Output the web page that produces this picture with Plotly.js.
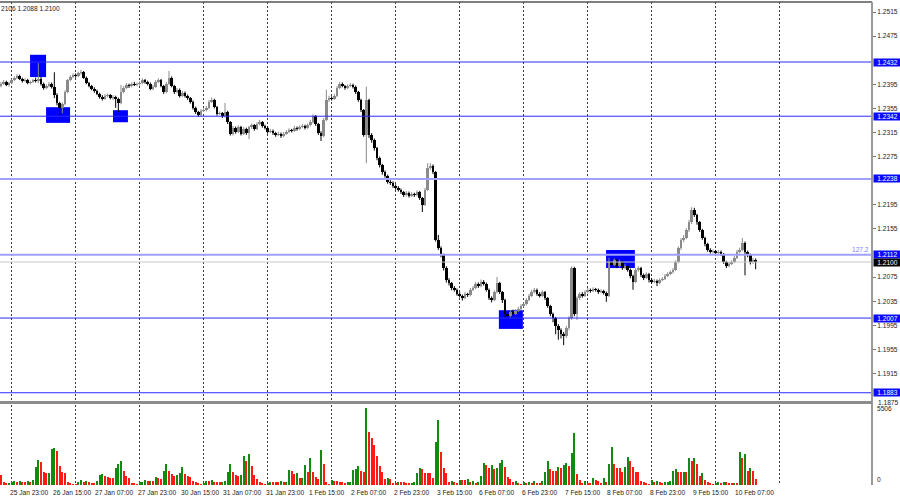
<!DOCTYPE html>
<html>
<head>
<meta charset="utf-8">
<script src="https://cdn.plot.ly/plotly-3.0.1.min.js"></script>
<style>html,body{margin:0;padding:0;background:#fff;}#chart{width:900px;height:500px;}</style>
</head>
<body>
<div id="chart"></div>
<script>
// ---- EURUSD H1 bars (bar index 0..283) ----
const opens = [
1.2393,1.2396,1.2399,1.2394,1.2397,1.2402,1.2406,1.2409,1.2404,1.2401,
1.2402,1.2397,1.2399,1.2402,1.2401,1.2404,1.2396,1.2389,1.2392,1.2396,
1.2391,1.2377,1.2364,1.2356,1.2362,1.2382,1.2402,1.2407,1.2410,1.2409,
1.2414,1.2415,1.2406,1.2397,1.2392,1.2387,1.2384,1.2379,1.2374,1.2371,
1.2376,1.2377,1.2372,1.2374,1.2371,1.2364,1.2382,1.2389,1.2394,1.2392,
1.2396,1.2394,1.2396,1.2397,1.2402,1.2399,1.2396,1.2387,1.2391,1.2399,
1.2402,1.2392,1.2382,1.2396,1.2406,1.2392,1.2382,1.2386,1.2376,1.2381,
1.2376,1.2372,1.2366,1.2356,1.2349,1.2344,1.2351,1.2352,1.2356,1.2366,
1.2369,1.2357,1.2346,1.2347,1.2342,1.2349,1.2332,1.2313,1.2323,1.2316,
1.2324,1.2313,1.2321,1.2314,1.2324,1.2327,1.2321,1.2329,1.2332,1.2326,
1.2323,1.2316,1.2318,1.2314,1.2311,1.2313,1.2309,1.2313,1.2316,1.2319,
1.2318,1.2323,1.2321,1.2324,1.2326,1.2323,1.2327,1.2332,1.2342,1.2329,
1.2314,1.2309,1.2336,1.2369,1.2372,1.2371,1.2376,1.2389,1.2396,1.2392,
1.2389,1.2392,1.2394,1.2391,1.2382,1.2369,1.2352,1.2311,1.2369,1.2311,
1.2303,1.2289,1.2273,1.2261,1.2249,1.2243,1.2233,1.2231,1.2226,1.2223,
1.2220,1.2216,1.2211,1.2215,1.2210,1.2213,1.2211,1.2216,1.2206,1.2195,
1.2220,1.2256,1.2259,1.2249,1.2137,1.2123,1.2112,1.2090,1.2070,1.2065,
1.2057,1.2054,1.2047,1.2044,1.2040,1.2047,1.2045,1.2054,1.2057,1.2064,
1.2060,1.2067,1.2064,1.2054,1.2040,1.2037,1.2050,1.2065,1.2050,1.2037,
1.2014,1.2010,1.2017,1.2014,1.2019,1.2022,1.2027,1.2030,1.2037,1.2044,
1.2050,1.2054,1.2047,1.2044,1.2050,1.2040,1.2027,1.2014,1.2007,1.1994,
1.1987,1.1981,1.1977,1.1991,1.2007,1.2090,1.2014,1.2040,1.2047,1.2044,
1.2050,1.2054,1.2052,1.2055,1.2054,1.2050,1.2052,1.2049,1.2044,1.2100,
1.2095,1.2103,1.2093,1.2100,1.2090,1.2093,1.2087,1.2077,1.2067,1.2087,
1.2090,1.2079,1.2074,1.2080,1.2070,1.2067,1.2069,1.2065,1.2070,1.2072,
1.2077,1.2080,1.2083,1.2087,1.2100,1.2123,1.2137,1.2140,1.2153,1.2166,
1.2186,1.2178,1.2166,1.2153,1.2140,1.2130,1.2120,1.2117,1.2118,1.2115,
1.2117,1.2113,1.2100,1.2093,1.2097,1.2100,1.2107,1.2117,1.2120,1.2132,
1.2117,1.2112,1.2100,1.2104
];
const highs = [
1.2399,1.2402,1.2401,1.2399,1.2404,1.2408,1.2412,1.2411,1.2406,1.2405,
1.2404,1.2401,1.2404,1.2406,1.2430,1.2407,1.2398,1.2395,1.2399,1.2398,
1.2415,1.2380,1.2366,1.2365,1.2385,1.2404,1.2410,1.2413,1.2413,1.2416,
1.2419,1.2417,1.2408,1.2399,1.2394,1.2390,1.2386,1.2381,1.2377,1.2379,
1.2380,1.2379,1.2377,1.2376,1.2373,1.2394,1.2392,1.2397,1.2396,1.2398,
1.2399,1.2398,1.2400,1.2405,1.2404,1.2401,1.2398,1.2394,1.2402,1.2405,
1.2404,1.2394,1.2399,1.2417,1.2408,1.2394,1.2389,1.2388,1.2384,1.2383,
1.2378,1.2374,1.2368,1.2358,1.2351,1.2354,1.2355,1.2359,1.2369,1.2373,
1.2371,1.2359,1.2350,1.2349,1.2364,1.2351,1.2334,1.2326,1.2325,1.2327,
1.2326,1.2324,1.2323,1.2326,1.2330,1.2329,1.2332,1.2336,1.2334,1.2328,
1.2325,1.2321,1.2320,1.2316,1.2316,1.2315,1.2316,1.2319,1.2322,1.2321,
1.2326,1.2325,1.2327,1.2329,1.2328,1.2330,1.2336,1.2345,1.2344,1.2331,
1.2317,1.2339,1.2386,1.2376,1.2375,1.2379,1.2392,1.2399,1.2398,1.2394,
1.2395,1.2397,1.2396,1.2393,1.2384,1.2371,1.2354,1.2391,1.2371,1.2314,
1.2305,1.2291,1.2275,1.2263,1.2252,1.2245,1.2236,1.2234,1.2229,1.2226,
1.2222,1.2218,1.2218,1.2217,1.2216,1.2215,1.2219,1.2218,1.2208,1.2223,
1.2264,1.2264,1.2262,1.2251,1.2145,1.2126,1.2114,1.2093,1.2073,1.2067,
1.2060,1.2056,1.2050,1.2046,1.2050,1.2049,1.2057,1.2060,1.2067,1.2066,
1.2071,1.2070,1.2066,1.2056,1.2043,1.2053,1.2075,1.2067,1.2052,1.2039,
1.2017,1.2020,1.2021,1.2022,1.2026,1.2030,1.2033,1.2040,1.2047,1.2054,
1.2057,1.2056,1.2050,1.2053,1.2052,1.2042,1.2029,1.2016,1.2009,1.1997,
1.1990,1.1984,1.1994,1.2010,1.2093,1.2092,1.2043,1.2050,1.2050,1.2053,
1.2057,1.2056,1.2058,1.2057,1.2056,1.2055,1.2054,1.2051,1.2107,1.2104,
1.2106,1.2105,1.2104,1.2102,1.2097,1.2095,1.2089,1.2079,1.2090,1.2093,
1.2092,1.2081,1.2083,1.2082,1.2073,1.2072,1.2071,1.2073,1.2075,1.2080,
1.2083,1.2086,1.2090,1.2103,1.2126,1.2140,1.2145,1.2156,1.2170,1.2191,
1.2190,1.2180,1.2168,1.2155,1.2142,1.2132,1.2123,1.2121,1.2120,1.2120,
1.2119,1.2115,1.2102,1.2100,1.2103,1.2110,1.2120,1.2124,1.2140,1.2134,
1.2119,1.2114,1.2107,1.2106
];
const lows = [
1.2390,1.2394,1.2392,1.2391,1.2395,1.2400,1.2404,1.2402,1.2398,1.2399,
1.2395,1.2395,1.2397,1.2398,1.2397,1.2393,1.2386,1.2387,1.2390,1.2388,
1.2372,1.2360,1.2344,1.2347,1.2360,1.2380,1.2400,1.2405,1.2406,1.2407,
1.2411,1.2404,1.2395,1.2390,1.2385,1.2381,1.2377,1.2371,1.2368,1.2369,
1.2373,1.2370,1.2369,1.2356,1.2349,1.2362,1.2380,1.2387,1.2389,1.2390,
1.2392,1.2392,1.2393,1.2395,1.2396,1.2393,1.2385,1.2385,1.2389,1.2397,
1.2390,1.2379,1.2380,1.2394,1.2390,1.2379,1.2380,1.2373,1.2374,1.2373,
1.2369,1.2363,1.2353,1.2346,1.2341,1.2342,1.2349,1.2350,1.2354,1.2364,
1.2355,1.2343,1.2344,1.2339,1.2340,1.2329,1.2310,1.2310,1.2313,1.2314,
1.2310,1.2311,1.2311,1.2304,1.2321,1.2318,1.2319,1.2327,1.2323,1.2320,
1.2313,1.2314,1.2311,1.2308,1.2309,1.2306,1.2307,1.2311,1.2314,1.2315,
1.2316,1.2318,1.2319,1.2322,1.2320,1.2321,1.2325,1.2330,1.2326,1.2311,
1.2301,1.2307,1.2334,1.2366,1.2368,1.2369,1.2374,1.2387,1.2390,1.2386,
1.2387,1.2390,1.2388,1.2379,1.2366,1.2349,1.2308,1.2264,1.2306,1.2298,
1.2285,1.2269,1.2257,1.2245,1.2240,1.2230,1.2228,1.2223,1.2220,1.2217,
1.2213,1.2208,1.2209,1.2207,1.2208,1.2208,1.2209,1.2203,1.2183,1.2193,
1.2218,1.2253,1.2246,1.2134,1.2120,1.2108,1.2086,1.2066,1.2061,1.2053,
1.2051,1.2044,1.2041,1.2036,1.2038,1.2042,1.2043,1.2052,1.2055,1.2057,
1.2058,1.2061,1.2051,1.2037,1.2033,1.2035,1.2048,1.2047,1.2032,1.2007,
1.2006,1.2008,1.2011,1.2012,1.2017,1.2020,1.2025,1.2028,1.2035,1.2042,
1.2048,1.2044,1.2041,1.2042,1.2037,1.2024,1.2010,1.2000,1.1980,1.1971,
1.1973,1.1962,1.1974,1.1987,1.2004,1.2010,1.2004,1.2037,1.2041,1.2042,
1.2048,1.2049,1.2050,1.2051,1.2047,1.2048,1.2046,1.2034,1.2042,1.2092,
1.2093,1.2090,1.2091,1.2087,1.2088,1.2084,1.2073,1.2054,1.2065,1.2084,
1.2075,1.2070,1.2072,1.2066,1.2064,1.2065,1.2060,1.2063,1.2068,1.2070,
1.2075,1.2078,1.2081,1.2085,1.2098,1.2120,1.2133,1.2138,1.2150,1.2163,
1.2175,1.2162,1.2150,1.2137,1.2126,1.2117,1.2114,1.2114,1.2112,1.2112,
1.2110,1.2097,1.2090,1.2091,1.2095,1.2098,1.2105,1.2114,1.2118,1.2078,
1.2108,1.2096,1.2097,1.2088
];
const closes = [
1.2396,1.2399,1.2394,1.2397,1.2402,1.2406,1.2409,1.2404,1.2401,1.2402,
1.2397,1.2399,1.2402,1.2401,1.2404,1.2396,1.2389,1.2392,1.2396,1.2391,
1.2377,1.2364,1.2356,1.2362,1.2382,1.2402,1.2407,1.2410,1.2409,1.2414,
1.2415,1.2406,1.2397,1.2392,1.2387,1.2384,1.2379,1.2374,1.2371,1.2376,
1.2377,1.2372,1.2374,1.2371,1.2364,1.2382,1.2389,1.2394,1.2392,1.2396,
1.2394,1.2396,1.2397,1.2402,1.2399,1.2396,1.2387,1.2391,1.2399,1.2402,
1.2392,1.2382,1.2396,1.2406,1.2392,1.2382,1.2386,1.2376,1.2381,1.2376,
1.2372,1.2366,1.2356,1.2349,1.2344,1.2351,1.2352,1.2356,1.2366,1.2369,
1.2357,1.2346,1.2347,1.2342,1.2349,1.2332,1.2313,1.2323,1.2316,1.2324,
1.2313,1.2321,1.2314,1.2324,1.2327,1.2321,1.2329,1.2332,1.2326,1.2323,
1.2316,1.2318,1.2314,1.2311,1.2313,1.2309,1.2313,1.2316,1.2319,1.2318,
1.2323,1.2321,1.2324,1.2326,1.2323,1.2327,1.2332,1.2342,1.2329,1.2314,
1.2309,1.2336,1.2369,1.2372,1.2371,1.2376,1.2389,1.2396,1.2392,1.2389,
1.2392,1.2394,1.2391,1.2382,1.2369,1.2352,1.2311,1.2369,1.2311,1.2303,
1.2289,1.2273,1.2261,1.2249,1.2243,1.2233,1.2231,1.2226,1.2223,1.2220,
1.2216,1.2211,1.2215,1.2210,1.2213,1.2211,1.2216,1.2206,1.2195,1.2220,
1.2256,1.2259,1.2249,1.2137,1.2123,1.2112,1.2090,1.2070,1.2065,1.2057,
1.2054,1.2047,1.2044,1.2040,1.2047,1.2045,1.2054,1.2057,1.2064,1.2060,
1.2067,1.2064,1.2054,1.2040,1.2037,1.2050,1.2065,1.2050,1.2037,1.2014,
1.2010,1.2017,1.2014,1.2019,1.2022,1.2027,1.2030,1.2037,1.2044,1.2050,
1.2054,1.2047,1.2044,1.2050,1.2040,1.2027,1.2014,1.2007,1.1994,1.1987,
1.1981,1.1977,1.1991,1.2007,1.2090,1.2014,1.2040,1.2047,1.2044,1.2050,
1.2054,1.2052,1.2055,1.2054,1.2050,1.2052,1.2049,1.2044,1.2100,1.2095,
1.2103,1.2093,1.2100,1.2090,1.2093,1.2087,1.2077,1.2067,1.2087,1.2090,
1.2079,1.2074,1.2080,1.2070,1.2067,1.2069,1.2065,1.2070,1.2072,1.2077,
1.2080,1.2083,1.2087,1.2100,1.2123,1.2137,1.2140,1.2153,1.2166,1.2186,
1.2178,1.2166,1.2153,1.2140,1.2130,1.2120,1.2117,1.2118,1.2115,1.2117,
1.2113,1.2100,1.2093,1.2097,1.2100,1.2107,1.2117,1.2120,1.2132,1.2117,
1.2112,1.2100,1.2104,1.2100
];
const volumes = [
700,180,160,170,
220,260,200,250,230,200,260,240,350,1280,1750,1630,890,820,860,2520,2570,2400,1330,890,860,190,160,90,
70,230,350,190,280,190,160,160,280,700,770,650,580,510,510,1210,1450,1680,980,630,470,160,160,50,
190,210,330,250,260,260,540,490,400,980,1470,980,750,630,680,840,1260,770,650,540,300,190,140,50,
150,280,260,370,190,190,190,230,280,890,1470,890,700,630,700,2030,1680,2170,1330,680,400,190,160,50,
140,190,190,190,190,260,190,220,1050,980,770,820,470,510,1400,890,1910,930,580,420,2450,1470,190,50,
350,300,280,210,190,160,190,230,1050,1100,1350,980,890,5440,3690,3310,2800,2050,1330,890,400,470,400,120,
120,230,190,190,160,120,160,190,860,1210,1120,820,820,820,470,2990,4550,2330,1170,820,230,280,190,120,
350,350,350,400,190,280,120,190,630,1560,1400,1170,1400,1120,1170,1560,1750,1260,580,420,190,280,120,50,
190,160,190,140,280,160,140,280,930,1680,1120,1000,1000,1240,1210,1400,1560,1330,2220,3660,770,350,120,280,
160,160,470,350,280,160,470,190,1450,2640,1470,1210,1170,930,1280,1980,1680,1280,930,930,280,190,120,50,
350,190,280,190,120,190,230,280,980,1100,890,890,930,890,1870,1700,1870,1450,650,860,350,190,120,50,
160,190,160,190,190,160,140,160,160,2290,1910,2170,980,1170,980,420
];

// time labels (bar index of each label)
const timeLabels = ["25 Jan 23:00","26 Jan 15:00","27 Jan 07:00","27 Jan 23:00","30 Jan 15:00","31 Jan 07:00",
  "31 Jan 23:00","1 Feb 15:00","2 Feb 07:00","2 Feb 23:00","3 Feb 15:00","6 Feb 07:00",
  "6 Feb 23:00","7 Feb 15:00","8 Feb 07:00","8 Feb 23:00","9 Feb 15:00","10 Feb 07:00"];
const timeLabelBars = [2,18,34,50,66,82,98,114,130,146,162,178,194,210,226,242,258,274];
const gridBars = [4,28,52,76,100,124,148,172,196,220,244,268,292];
// price scale labels that are visible (others are hidden behind the level boxes)
const priceTicks = [1.2515,1.2475,1.2395,1.2355,1.2315,1.2275,1.2195,1.2155,1.2075,1.2035,1.1995,1.1955,1.1915];
const bottomTick = 1.1875;

// horizontal levels
const levels = [1.2432, 1.2342, 1.2238, 1.2112, 1.2007, 1.1883];
const levelColors = ['#2a2aff','#2a2aff','#a0a0ff','#a0a0ff','#2a2aff','#2a2aff'];
const levelWidths = [1,1,2,2,1,1];
const lastPrice = 1.2100;
const fibLabel = "127.2";
const headerText = "2106 1.2088 1.2100";
const volMaxLabel = 5506;

// blue zones
const zoneX0 = [10.9, 16.9, 42.0, 186.7, 226.9];
const zoneX1 = [16.9, 25.9, 47.6, 195.7, 237.7];
const zoneTop = [1.2444, 1.2357, 1.2352, 1.2020, 1.2120];
const zoneBottom = [1.2407, 1.2331, 1.2332, 1.1989, 1.2090];

// ---------- build traces ----------
const n = closes.length;
const upIdx = [], dnIdx = [];
for (let i = 0; i < n; i++) (closes[i] >= opens[i] ? upIdx : dnIdx).push(i);

function bodyTrace(list, color) {
  const x = [], base = [], h = [];
  list.forEach(i => {
    let b = Math.min(opens[i], closes[i]);
    let hh = Math.abs(closes[i] - opens[i]);
    const minH = 0.00008;
    if (hh < minH) { b -= (minH - hh) / 2; hh = minH; }
    x.push(i); base.push(b); h.push(hh);
  });
  return {type:'bar', x, y:h, base, width:0.9, marker:{color, line:{width:0}},
          xaxis:'x', yaxis:'y', hoverinfo:'skip'};
}
function wickTrace(list, color) {
  const x = [], y = [];
  list.forEach(i => { x.push(i, i, null); y.push(lows[i], highs[i], null); });
  return {type:'scatter', mode:'lines', x, y, line:{color, width:1},
          xaxis:'x', yaxis:'y', hoverinfo:'skip', connectgaps:false};
}
const BULL = '#8a8a8a', BEAR = '#000000';
const volColors = volumes.map((v, i) => (i > 0 && v > volumes[i-1]) ? '#128a12' : '#ff1a1a');

const traces = [
  wickTrace(upIdx, BULL), wickTrace(dnIdx, BEAR),
  bodyTrace(upIdx, BULL), bodyTrace(dnIdx, BEAR),
  {type:'bar', x: volumes.map((_, i) => i), y: volumes, width:0.75,
   marker:{color: volColors, line:{width:0}}, xaxis:'x', yaxis:'y2', hoverinfo:'skip'}
];

const FONT = 'Liberation Sans, Arial, sans-serif';
const shapes = [];
zoneX0.forEach((x0, k) => shapes.push({type:'rect', xref:'x', yref:'y', x0, x1: zoneX1[k],
  y0: zoneBottom[k], y1: zoneTop[k], fillcolor:'#0000ff', line:{width:0}, layer:'below'}));
shapes.push({type:'line', xref:'paper', yref:'y', x0:0, x1:1, y0:lastPrice, y1:lastPrice,
  line:{color:'#c8c8c8', width:1}, layer:'above'});
levels.forEach((lv, k) => shapes.push({type:'line', xref:'paper', yref:'y', x0:0, x1:1, y0:lv, y1:lv,
  line:{color: levelColors[k], width: levelWidths[k]}, layer:'above'}));
// frame: top border, right axis line, panel separator
shapes.push({type:'line', xref:'paper', yref:'paper', x0:0, x1:1, y0:1, y1:1, line:{color:'#555', width:1.5}});
shapes.push({type:'line', xref:'paper', yref:'paper', x0:1, x1:1, y0:0, y1:1, line:{color:'#9a9a9a', width:2}});
shapes.push({type:'rect', xref:'paper', yref:'paper', x0:0, x1:1, y0:0.1677, y1:0.1739,
  fillcolor:'#8c8c8c', line:{width:0}});

const annotations = [];
timeLabels.forEach((t, k) => annotations.push({xref:'x', yref:'paper', x: timeLabelBars[k], y:0,
  xanchor:'left', yanchor:'top', xshift:1.5, yshift:-2, text:t, showarrow:false,
  font:{family:FONT, size:6.6, color:'#222'}}));
levels.forEach(lv => annotations.push({xref:'paper', yref:'y', x:1, y:lv, xanchor:'left', yanchor:'middle',
  xshift:1, text: lv.toFixed(4), showarrow:false, bgcolor:'#0a0aff', borderpad:0, width:27, height:7,
  align:'center', font:{family:FONT, size:6.6, color:'#ffffff'}}));
annotations.push({xref:'paper', yref:'y', x:1, y:lastPrice, xanchor:'left', yanchor:'middle',
  xshift:1, text:lastPrice.toFixed(4), showarrow:false, bgcolor:'#000000', borderpad:0, width:27, height:7,
  align:'center', font:{family:FONT, size:6.6, color:'#ffffff'}});
annotations.push({xref:'paper', yref:'y', x:1, y:bottomTick, xanchor:'left', yanchor:'top',
  xshift:4, yshift:1, text:bottomTick.toFixed(4), showarrow:false,
  font:{family:FONT, size:6.6, color:'#222'}});
annotations.push({xref:'paper', yref:'y', x:1, y:levels[3], xanchor:'right', yanchor:'bottom',
  xshift:-1, yshift:0, text:fibLabel, showarrow:false, font:{family:FONT, size:6.6, color:'#8080ff'}});
annotations.push({xref:'paper', yref:'paper', x:0, y:1, xanchor:'left', yanchor:'top', xshift:-1, yshift:-1,
  text:headerText, showarrow:false, font:{family:FONT, size:6.6, color:'#222'}});
annotations.push({xref:'paper', yref:'y2', x:1, y:volMaxLabel, xanchor:'left', yanchor:'top', xshift:3, yshift:4,
  text:String(volMaxLabel), showarrow:false, font:{family:FONT, size:6.6, color:'#222'}});
annotations.push({xref:'paper', yref:'y2', x:1, y:0, xanchor:'left', yanchor:'bottom', xshift:3, yshift:0,
  text:'0', showarrow:false, font:{family:FONT, size:6.6, color:'#222'}});

const layout = {
  width:900, height:500,
  margin:{l:0, r:28, t:2, b:15, pad:0},
  paper_bgcolor:'#ffffff', plot_bgcolor:'#ffffff',
  showlegend:false, barmode:'overlay', bargap:0,
  xaxis:{range:[-0.375, 326.625], tickvals:gridBars, showticklabels:false, ticks:'',
         showgrid:true, gridcolor:'#3a3a3a', gridwidth:1, griddash:'2px,2px',
         zeroline:false, showline:false, anchor:'y2', fixedrange:true},
  yaxis:{domain:[0.176, 1], range:[1.18710, 1.25316], side:'right', tickvals:priceTicks,
         tickformat:'.4f', ticks:'outside', ticklen:3, tickcolor:'#777', tickwidth:1,
         tickfont:{family:FONT, size:6.6, color:'#222'}, showgrid:false, zeroline:false,
         showline:false, anchor:'x', fixedrange:true},
  yaxis2:{domain:[0, 0.1656], range:[0, 5620], side:'right', showticklabels:false, ticks:'',
          showgrid:false, zeroline:false, showline:false, anchor:'x', fixedrange:true},
  shapes, annotations,
  font:{family:FONT}
};

Plotly.newPlot('chart', traces, layout, {staticPlot:true, displayModeBar:false});
</script>
</body>
</html>
